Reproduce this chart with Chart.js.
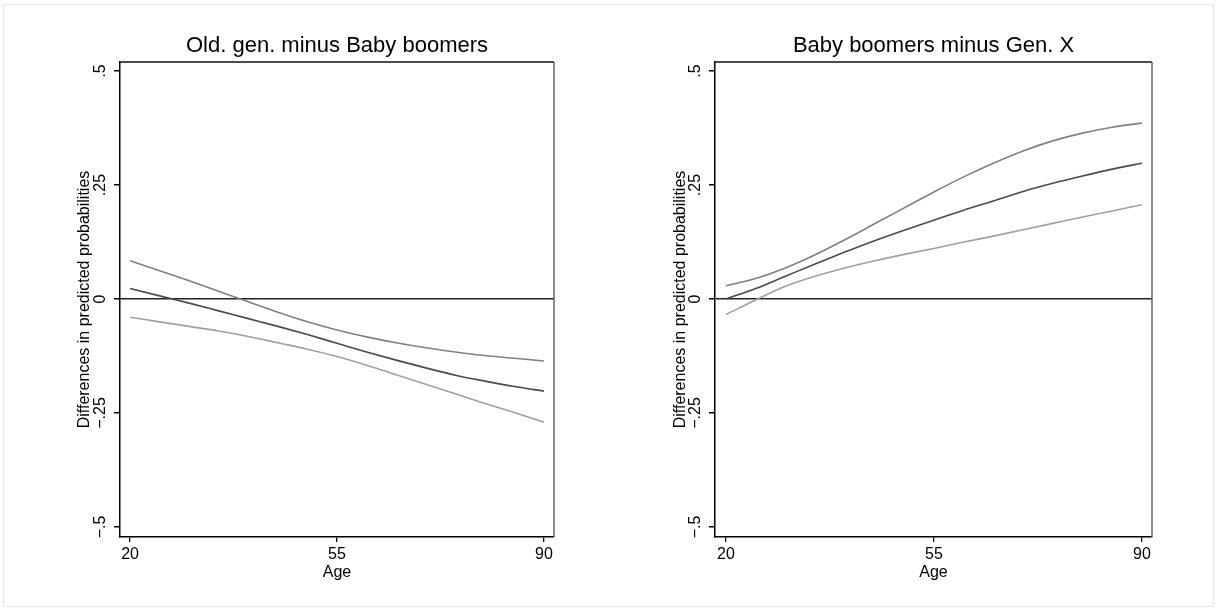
<!DOCTYPE html>
<html>
<head>
<meta charset="utf-8">
<script src="https://cdn.jsdelivr.net/npm/chart.js@4.4.1/dist/chart.umd.min.js"></script>
<style>
  html, body { margin: 0; padding: 0; background: #fff; }
  #frame { position: absolute; left: 3px; top: 4px; width: 1209px; height: 601px; border: 1px solid #e3eaef; }
  .panel { position: absolute; top: 0; height: 611px; }
  #left { left: 0; width: 600px; }
  #right { left: 600px; width: 617px; }
</style>
</head>
<body>
<div id="frame"></div>
<div class="panel" id="left"><canvas id="old-vs-boomers"></canvas></div>
<div class="panel" id="right"><canvas id="boomers-vs-genx"></canvas></div>
<script>
"use strict";

const AGES = [20, 25, 30, 35, 40, 45, 50, 55, 60, 65, 70, 75, 80, 85, 90];
const X_TICKS = [20, 55, 90];
const Y_TICKS = [-0.5, -0.25, 0, 0.25, 0.5];

// Old. gen. minus Baby boomers
const OLD_UPPER    = [0.084, 0.062, 0.040, 0.017, -0.006, -0.029, -0.050, -0.068, -0.083, -0.096, -0.107, -0.116, -0.124, -0.130, -0.136];
const OLD_ESTIMATE = [0.023, 0.007, -0.009, -0.026, -0.043, -0.060, -0.078, -0.097, -0.116, -0.134, -0.151, -0.167, -0.180, -0.192, -0.202];
const OLD_LOWER    = [-0.040, -0.050, -0.060, -0.070, -0.082, -0.096, -0.110, -0.126, -0.145, -0.166, -0.187, -0.208, -0.229, -0.249, -0.270];

// Baby boomers minus Gen. X
const GENX_UPPER    = [0.029, 0.045, 0.068, 0.097, 0.130, 0.165, 0.200, 0.235, 0.268, 0.298, 0.325, 0.347, 0.364, 0.377, 0.386];
const GENX_ESTIMATE = [0.000, 0.023, 0.050, 0.077, 0.103, 0.128, 0.151, 0.173, 0.195, 0.215, 0.236, 0.254, 0.270, 0.285, 0.298];
const GENX_LOWER    = [-0.034, -0.002, 0.028, 0.050, 0.068, 0.084, 0.098, 0.111, 0.125, 0.138, 0.152, 0.166, 0.180, 0.193, 0.207];

Chart.defaults.font.family = '"Liberation Sans", Arial, Helvetica, sans-serif';
Chart.defaults.color = '#000';

const FONT_SIZE = 16;

// box line on top and right of the plot region
const plotFrame = {
    id: 'plotFrame',
    afterDatasetsDraw(chart) {
        const {ctx, chartArea: a} = chart;
        ctx.save();
        ctx.lineWidth = 1.5;
        ctx.strokeStyle = '#111';
        ctx.beginPath();
        ctx.moveTo(a.left, a.top);
        ctx.lineTo(a.right, a.top);
        ctx.stroke();
        ctx.strokeStyle = '#666';
        ctx.beginPath();
        ctx.moveTo(a.right, a.top);
        ctx.lineTo(a.right, a.bottom);
        ctx.stroke();
        ctx.restore();
    }
};

function toPoints(values) {
    return AGES.map((age, i) => ({x: age, y: values[i]}));
}

function stataNumber(v) {
    if (v === 0) return '0';
    const s = String(Math.abs(v)).replace(/^0/, '');
    return (v < 0 ? '\u2212' : '') + s;
}

function makePanel(id, title, upper, estimate, lower, cfg) {
    const ctx = document.getElementById(id).getContext('2d');
    return new Chart(ctx, {
        type: 'line',
        data: {
            datasets: [{
                label: 'Upper',
                data: toPoints(upper),
                borderColor: '#808080',
                borderWidth: 1.6,
                pointRadius: 0,
                cubicInterpolationMode: 'monotone'
            }, {
                label: 'Estimate',
                data: toPoints(estimate),
                borderColor: '#4a4a4a',
                borderWidth: 1.6,
                pointRadius: 0,
                cubicInterpolationMode: 'monotone'
            }, {
                label: 'Lower',
                data: toPoints(lower),
                borderColor: '#a0a0a0',
                borderWidth: 1.6,
                pointRadius: 0,
                cubicInterpolationMode: 'monotone'
            }]
        },
        options: {
            responsive: true,
            maintainAspectRatio: false,
            animation: false,
            layout: {
                padding: {left: 0, right: cfg.padRight, top: 0, bottom: 0}
            },
            scales: {
                x: {
                    type: 'linear',
                    min: cfg.xMin,
                    max: 91.7,
                    afterBuildTicks: (s) => { s.ticks = X_TICKS.map(v => ({value: v})); },
                    afterFit: (s) => { s.height = 74; },
                    grid: {
                        drawOnChartArea: false,
                        drawTicks: true,
                        tickLength: 5,
                        tickColor: '#000',
                        lineWidth: 1.3
                    },
                    border: {color: '#000', width: 1.5},
                    ticks: {
                        color: '#000',
                        font: {size: FONT_SIZE},
                        padding: 3,
                        maxRotation: 0,
                        autoSkip: false
                    },
                    title: {
                        display: true,
                        text: 'Age',
                        color: '#000',
                        font: {size: FONT_SIZE},
                        padding: {top: 0, bottom: 29}
                    }
                },
                y: {
                    type: 'linear',
                    min: -0.522,
                    max: 0.52,
                    afterBuildTicks: (s) => { s.ticks = Y_TICKS.map(v => ({value: v})); },
                    afterFit: (s) => { s.width = cfg.yWidth; },
                    grid: {
                        drawOnChartArea: true,
                        drawTicks: true,
                        tickLength: 6,
                        tickColor: '#000',
                        lineWidth: 1.5,
                        color: (c) => (c.tick && c.tick.value === 0) ? '#222' : 'rgba(0,0,0,0)'
                    },
                    border: {color: '#000', width: 1.5},
                    ticks: {
                        color: '#000',
                        font: {size: FONT_SIZE},
                        minRotation: 90,
                        maxRotation: 90,
                        crossAlign: 'center',
                        padding: -2.5,
                        autoSkip: false,
                        callback: (v) => stataNumber(v)
                    },
                    title: {
                        display: true,
                        text: 'Differences in predicted probabilities',
                        color: '#000',
                        font: {size: FONT_SIZE},
                        padding: {top: cfg.yTitlePad, bottom: 0}
                    }
                }
            },
            plugins: {
                title: {
                    display: true,
                    fullSize: false,
                    text: title,
                    color: '#000',
                    font: {size: 22, weight: 'normal'},
                    padding: {top: 33, bottom: 2.6}
                },
                legend: {display: false},
                tooltip: {enabled: false}
            }
        },
        plugins: [plotFrame]
    });
}

makePanel('old-vs-boomers', 'Old. gen. minus Baby boomers',
    OLD_UPPER, OLD_ESTIMATE, OLD_LOWER,
    {yWidth: 120, padRight: 46, xMin: 18.3, yTitlePad: 75.4});

makePanel('boomers-vs-genx', 'Baby boomers minus Gen. X',
    GENX_UPPER, GENX_ESTIMATE, GENX_LOWER,
    {yWidth: 115, padRight: 65, xMin: 18.15, yTitlePad: 71.4});
</script>
</body>
</html>
